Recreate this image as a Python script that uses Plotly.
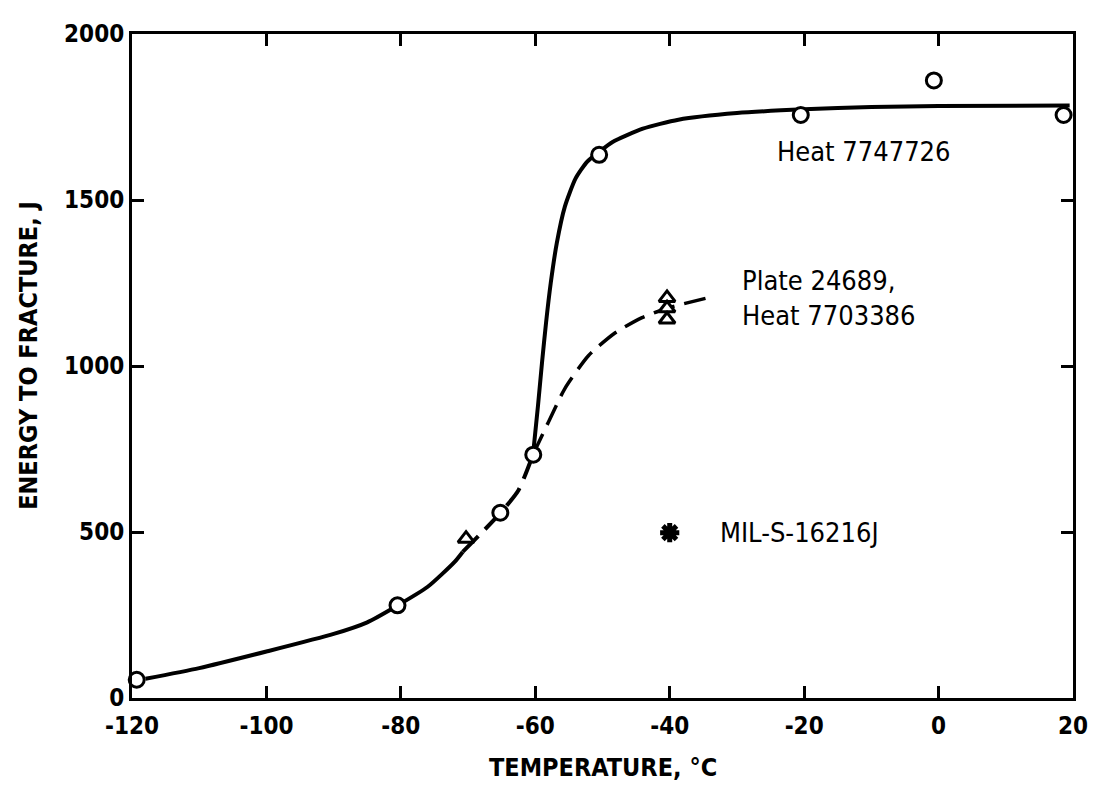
import plotly.graph_objects as go

# ---- data ----
# Heat 7747726 (open circles)
heat_x = [-119.3, -80.5, -65.2, -60.3, -50.5, -20.5, -0.7, 18.6]
heat_y = [55, 279, 558, 733, 1636, 1756, 1860, 1756]

# Plate 24689, Heat 7703386 (open triangles)
plate_x = [-70.3, -40.4, -40.4, -40.4]
plate_y = [480, 1205, 1174, 1140]

# MIL-S-16216J requirement (asterisk)
mil_x = [-40.0]
mil_y = [498]

# Fitted curve for Heat 7747726, lower solid part
heat_low_x = [-118, -110, -100, -90, -85, -80.8, -76, -72, -70.8]
heat_low_y = [58, 90, 140, 193, 228, 275, 335, 410, 440]

# Shared dashed section between -70 and -60
shared_x = [-70.8, -68.4, -65.2, -62.5, -60.3]
shared_y = [440, 489, 557, 626, 735]

# Heat 7747726 upper solid part
heat_up_x = [-60.3, -59.6, -59.0, -58.4, -57.7, -56.8, -55.6, -54.0, -52.3, -50.5,
             -48.5, -44.0, -38.7, -30, -20, -10, 0, 19.5]
heat_up_y = [740, 880, 1010, 1130, 1250, 1370, 1480, 1565, 1615, 1645,
             1675, 1715, 1742, 1762, 1773, 1780, 1783, 1785]

# Plate 24689 dashed curve
plate_c_x = [-60.3, -58.0, -55.6, -52.1, -48.1, -44.2, -40.4, -34.0]
plate_c_y = [735, 833, 932, 1031, 1100, 1145, 1174, 1207]

x_ticks = [-120, -100, -80, -60, -40, -20, 0, 20]
y_ticks = [0, 500, 1000, 1500, 2000]

FONT = "DejaVu Sans Condensed, DejaVu Sans, sans-serif"
fig = go.Figure()

fig.add_trace(go.Scatter(x=heat_low_x, y=heat_low_y, mode="lines",
                         line=dict(color="black", width=4, shape="spline", smoothing=0.6)))
fig.add_trace(go.Scatter(x=shared_x, y=shared_y, mode="lines",
                         line=dict(color="black", width=4, dash="22px,10px",
                                   shape="spline", smoothing=0.6)))
fig.add_trace(go.Scatter(x=heat_up_x, y=heat_up_y, mode="lines",
                         line=dict(color="black", width=4, shape="spline", smoothing=0.6)))
fig.add_trace(go.Scatter(x=plate_c_x, y=plate_c_y, mode="lines",
                         line=dict(color="black", width=3.5, dash="22px,10px",
                                   shape="spline", smoothing=0.6)))

fig.add_trace(go.Scatter(x=heat_x, y=heat_y, mode="markers", cliponaxis=False,
                         marker=dict(symbol="circle", size=15, color="white",
                                     line=dict(color="black", width=3))))
fig.add_trace(go.Scatter(x=plate_x, y=plate_y, mode="markers", cliponaxis=False,
                         marker=dict(symbol="triangle-up", size=14, color="white",
                                     line=dict(color="black", width=3))))
fig.add_trace(go.Scatter(x=mil_x, y=mil_y, mode="markers",
                         marker=dict(symbol="asterisk-open", size=16, color="black",
                                     line=dict(color="black", width=5))))

ann_font = dict(family=FONT, size=27, color="black")
title_font = dict(family=FONT, size=25, color="black", weight="bold")
fig.add_annotation(x=-24.3, y=1647, xref="x", yref="y", text="Heat 7747726",
                   showarrow=False, xanchor="left", yanchor="middle", font=ann_font)
fig.add_annotation(x=-29.5, y=1206, xref="x", yref="y", text="Plate 24689,<br>Heat 7703386",
                   showarrow=False, xanchor="left", yanchor="middle", align="left", font=ann_font)
fig.add_annotation(x=-32.8, y=498, xref="x", yref="y", text="MIL-S-16216J",
                   showarrow=False, xanchor="left", yanchor="middle", font=ann_font)

# axis titles
fig.add_annotation(x=0.5, y=-0.104, xref="paper", yref="paper", text="TEMPERATURE, °C",
                   showarrow=False, xanchor="center", yanchor="middle", font=title_font)
fig.add_annotation(x=-0.11, y=0.516, xref="paper", yref="paper", text="ENERGY TO FRACTURE, J",
                   textangle=-90, showarrow=False, xanchor="center", yanchor="middle", font=title_font)

axis_common = dict(showline=True, linewidth=3, linecolor="black", mirror="ticks",
                   ticks="inside", ticklen=12, tickwidth=3, tickcolor="black",
                   showgrid=False, zeroline=False,
                   tickfont=dict(family=FONT, size=24, color="black", weight="bold"))
fig.update_xaxes(range=[-120, 20], tickvals=x_ticks, ticktext=[str(v) for v in x_ticks],
                 ticklabelstandoff=4, **axis_common)
fig.update_yaxes(range=[0, 2000], tickvals=y_ticks, ticktext=[str(v) for v in y_ticks],
                 **axis_common)

# page body adds an 8px offset; margins compensate so the plot box lands where the reference has it
fig.update_layout(width=1098, height=789, showlegend=False,
                  paper_bgcolor="white", plot_bgcolor="white",
                  margin=dict(l=124, r=33, t=16, b=99))

fig.write_html("out.html")
